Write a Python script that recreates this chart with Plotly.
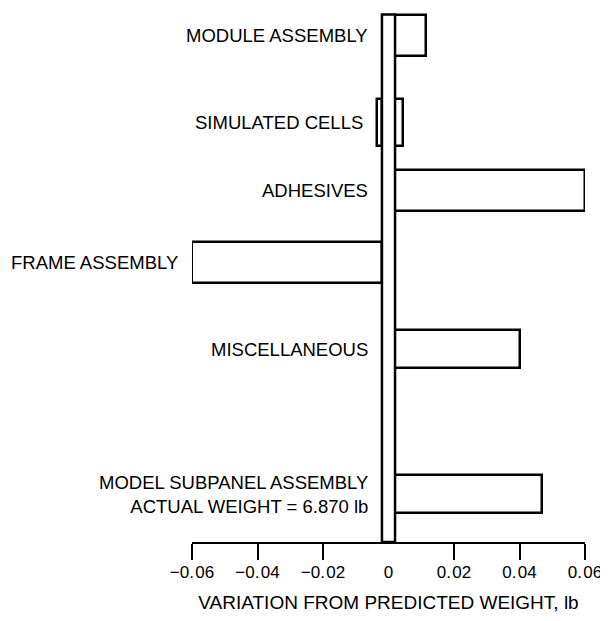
import plotly.graph_objects as go

# ---- data ----
categories = ["MODULE ASSEMBLY", "SIMULATED CELLS", "ADHESIVES", "FRAME ASSEMBLY",
              "MISCELLANEOUS", "MODEL SUBPANEL ASSEMBLY<br>ACTUAL WEIGHT = 6.870 lb"]
pos_values = [0.0113, 0.0045, 0.060, 0.0, 0.040, 0.0468]    # extent to the right of zero, lb
neg_values = [0.0, -0.0035, 0.0, -0.060, 0.0, 0.0]          # extent to the left of zero, lb
row_slots = [2.5, 11.2, 18.0, 25.2, 33.9, 48.4]              # vertical slot of each category
row_heights = [4.1, 4.7, 4.1, 4.1, 3.8, 3.8]
tick_vals = [-0.06, -0.04, -0.02, 0, 0.02, 0.04, 0.06]
tick_text = ["\u22120.\u200a06", "\u22120.\u200a04", "\u22120.\u200a02", "0",
             "0.\u200a02", "0.\u200a04", "0.\u200a06"]
x_title = "VARIATION FROM PREDICTED WEIGHT, lb"

half_strip = 0.002
FONT = "Liberation Sans"

fig = go.Figure()

# positive bars (start at right edge of zero strip)
px, pb, py, pw = [], [], [], []
for v, y, h in zip(pos_values, row_slots, row_heights):
    if v > half_strip:
        px.append(v - half_strip); pb.append(half_strip); py.append(y); pw.append(h)
fig.add_trace(go.Bar(x=px, base=pb, y=py, width=pw, orientation="h",
                     marker=dict(color="white", line=dict(color="black", width=2.5)),
                     showlegend=False, hoverinfo="skip"))
# negative bars
nx, nb, ny, nw = [], [], [], []
for v, y, h in zip(neg_values, row_slots, row_heights):
    if v < -half_strip:
        nx.append(v + half_strip); nb.append(-half_strip); ny.append(y); nw.append(h)
fig.add_trace(go.Bar(x=nx, base=nb, y=ny, width=nw, orientation="h",
                     marker=dict(color="white", line=dict(color="black", width=2.5)),
                     showlegend=False, hoverinfo="skip"))

# zero strip
fig.add_shape(type="rect", xref="x", yref="y", x0=-half_strip, x1=half_strip,
              y0=row_slots[0] - row_heights[0] / 2, y1=53.2,
              line=dict(color="black", width=2.5), fillcolor="white", layer="above")

# category labels
for cat, lo, y in zip(categories, neg_values, row_slots):
    xa = min(lo, -half_strip)
    fig.add_annotation(x=xa, y=y, xref="x", yref="y", text=cat, showarrow=False,
                       xanchor="right", yanchor="middle", align="right", xshift=-12,
                       font=dict(family=FONT, size=18.5, color="black"))

fig.update_layout(
    width=600, height=605,
    margin=dict(l=184, r=23, t=2, b=71, autoexpand=False),
    paper_bgcolor="white", plot_bgcolor="white",
    bargap=0, barmode="overlay",
    xaxis=dict(range=[-0.06, 0.06], tickvals=tick_vals, ticktext=tick_text,
               ticks="", showgrid=False, zeroline=False, automargin=False,
               showline=True, linecolor="black", linewidth=2,
               ticklabelstandoff=14,
               tickfont=dict(family=FONT, size=17, color="black"),
               minor=dict(tickvals=[-0.06, -0.04, -0.02, 0.02, 0.04, 0.06],
                          ticks="outside", ticklen=16, tickwidth=2, tickcolor="black",
                          showgrid=False),
               title=dict(text=x_title, font=dict(family=FONT, size=19, color="black"),
                          standoff=18)),
    yaxis=dict(range=[53.2, 0], showticklabels=False, ticks="", showgrid=False,
               zeroline=False, showline=False, automargin=False),
)

fig.write_html("out.html")
